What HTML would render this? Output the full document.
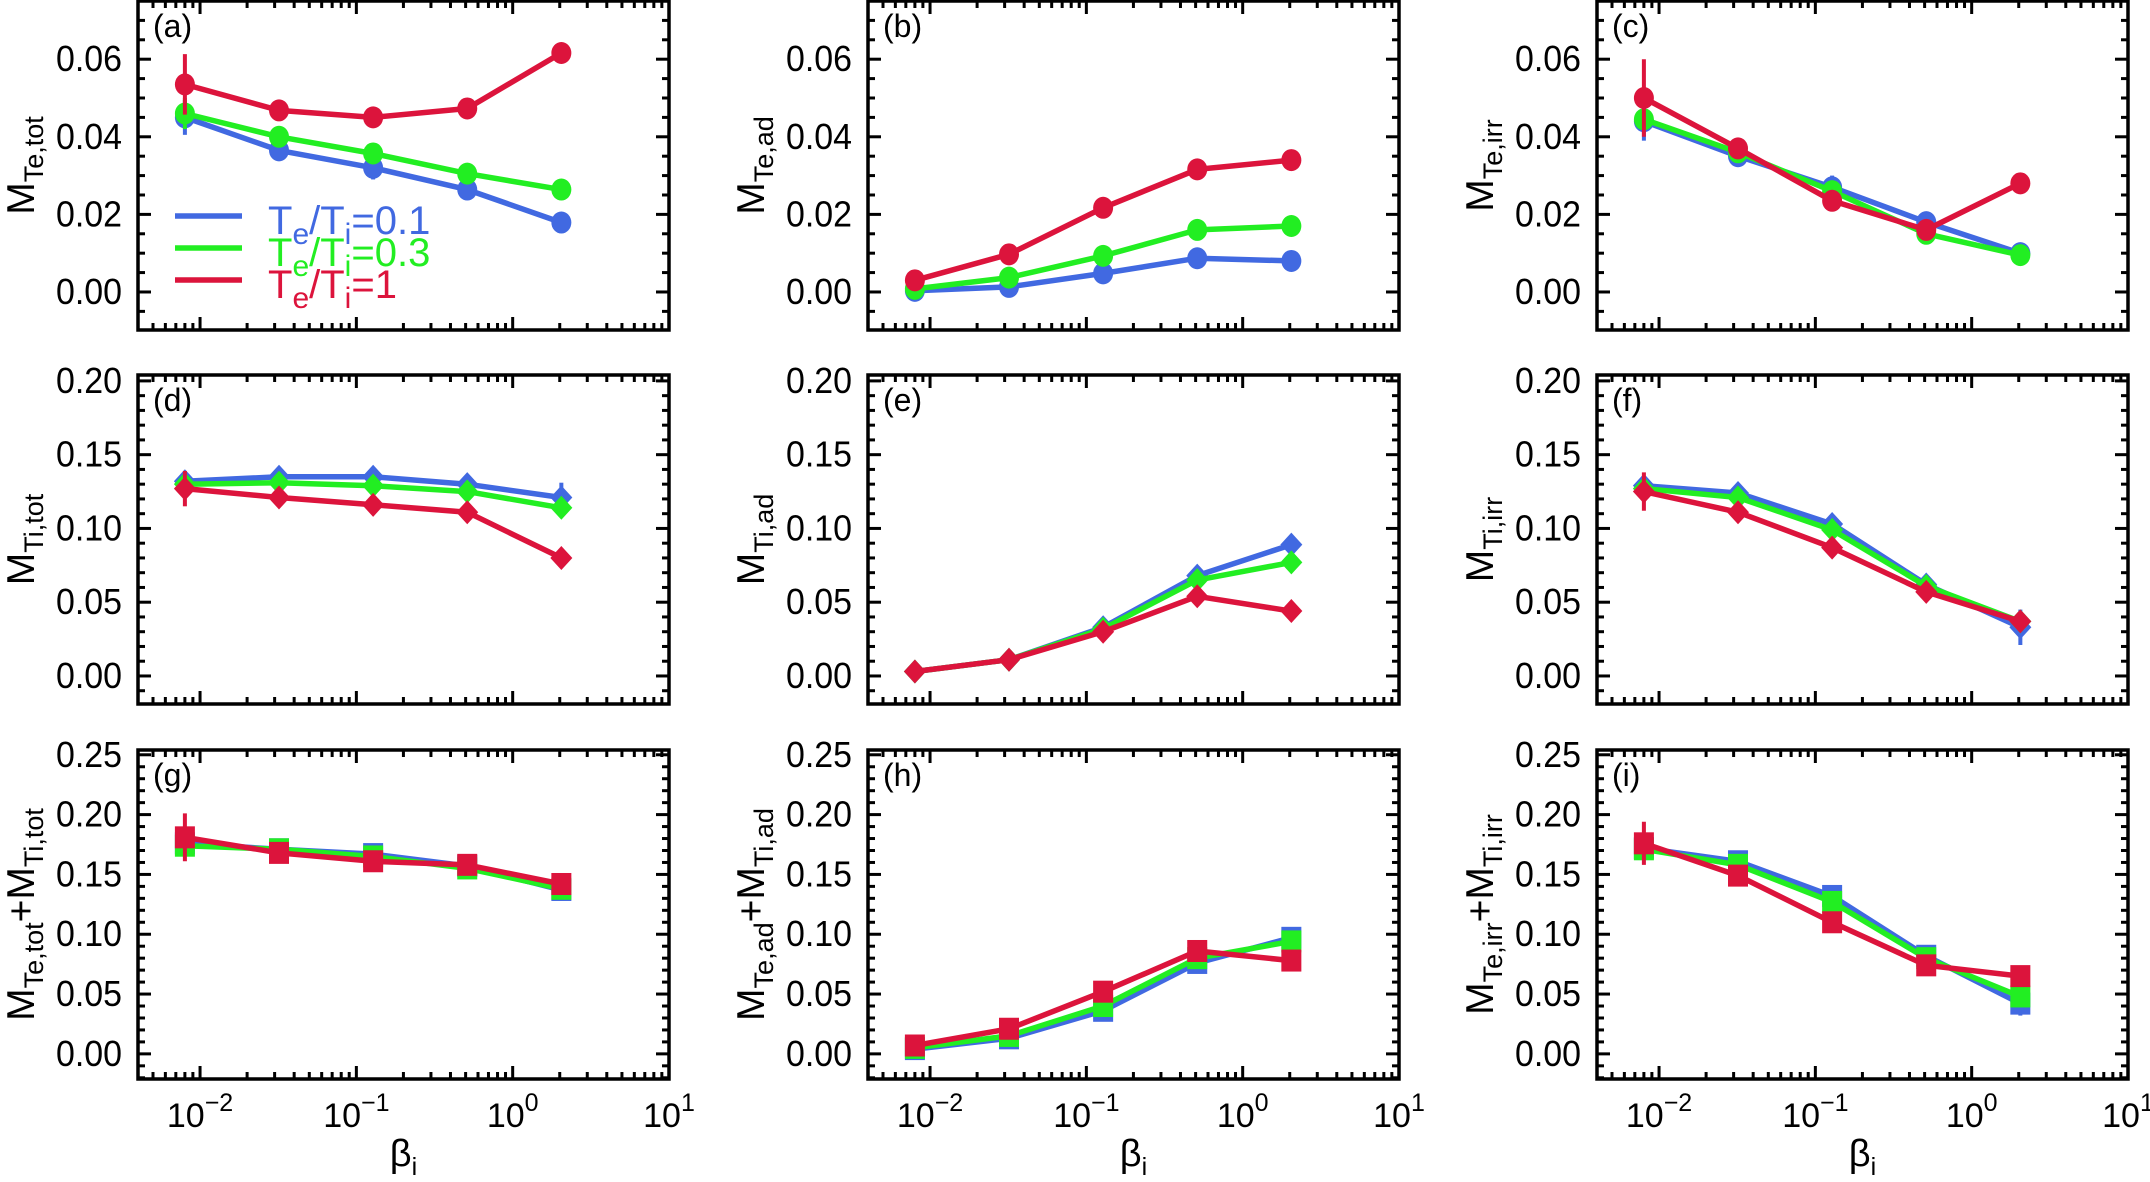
<!DOCTYPE html>
<html><head><meta charset="utf-8"><style>
html,body{margin:0;padding:0;background:#fff}
svg{display:block}
text{font-family:"Liberation Sans",sans-serif;fill:#000}
</style></head><body>
<svg id="fig" width="2150" height="1182" viewBox="0 0 2150 1182" xmlns="http://www.w3.org/2000/svg"></svg>
<script>
const betaValues = [0.008, 0.032, 0.128, 0.512, 2.048];
const seriesNames = ["Te/Ti=0.1", "Te/Ti=0.3", "Te/Ti=1"];
const row1Ticks = ["0.00", "0.02", "0.04", "0.06"];
const row2Ticks = ["0.00", "0.05", "0.10", "0.15", "0.20"];
const row3Ticks = ["0.00", "0.05", "0.10", "0.15", "0.20", "0.25"];
const xTickExps = ["-2", "-1", "0", "1"];

const aBlue = [0.045, 0.0365, 0.032, 0.0264, 0.0179];
const aGreen = [0.046, 0.040, 0.0357, 0.0305, 0.0264];
const aRed = [0.0535, 0.0468, 0.045, 0.0473, 0.0616];
const aErr = [[0.0045,0,0.003,0,0],[0.004,0,0,0,0],[0.0078,0,0,0,0]];
const bBlue = [0.0003, 0.0013, 0.0048, 0.0087, 0.008];
const bGreen = [0.0008, 0.0037, 0.0093, 0.016, 0.017];
const bRed = [0.003, 0.0097, 0.0217, 0.0316, 0.034];
const cBlue = [0.044, 0.035, 0.027, 0.018, 0.010];
const cGreen = [0.0445, 0.036, 0.026, 0.015, 0.0095];
const cRed = [0.050, 0.037, 0.0235, 0.016, 0.028];
const cErr = [[0.005,0,0.003,0,0],[0,0,0,0,0],[0.01,0,0,0,0]];
const dBlue = [0.132, 0.135, 0.135, 0.130, 0.121];
const dGreen = [0.130, 0.131, 0.129, 0.125, 0.114];
const dRed = [0.127, 0.121, 0.116, 0.111, 0.080];
const dErr = [[0,0,0,0,0.01],[0,0,0,0,0],[0.012,0,0,0,0]];
const eBlue = [0.003, 0.011, 0.033, 0.068, 0.089];
const eGreen = [0.003, 0.011, 0.032, 0.065, 0.077];
const eRed = [0.003, 0.011, 0.030, 0.054, 0.044];
const fBlue = [0.129, 0.124, 0.103, 0.062, 0.033];
const fGreen = [0.127, 0.121, 0.099, 0.061, 0.037];
const fRed = [0.125, 0.111, 0.087, 0.057, 0.037];
const fErr = [[0,0,0,0,0.012],[0,0,0,0,0],[0.013,0,0,0,0]];
const gBlue = [0.176, 0.171, 0.167, 0.157, 0.137];
const gGreen = [0.174, 0.171, 0.165, 0.155, 0.138];
const gRed = [0.181, 0.168, 0.161, 0.158, 0.142];
const gErr = [[0,0,0,0,0.006],[0.008,0,0,0,0],[0.02,0,0,0,0]];
const hBlue = [0.004, 0.013, 0.036, 0.076, 0.097];
const hGreen = [0.005, 0.015, 0.040, 0.080, 0.094];
const hRed = [0.007, 0.021, 0.052, 0.086, 0.078];
const iBlue = [0.172, 0.161, 0.132, 0.082, 0.042];
const iGreen = [0.171, 0.158, 0.127, 0.080, 0.048];
const iRed = [0.176, 0.149, 0.110, 0.074, 0.065];
const iErr = [[0,0,0,0,0.01],[0,0,0,0,0],[0.018,0,0,0,0]];

const NS = "http://www.w3.org/2000/svg";
const svg = document.getElementById("fig");
const colors = ["#4169E1", "#22EE22", "#DC143C"];
const colX = [138, 868, 1597], colW = 531;
const rowY = [1, 375, 750], rowH = 329;
const rowRange = [[-0.0098, 0.075], [-0.019, 0.204], [-0.021, 0.254]];
const rowTicks = [row1Ticks, row2Ticks, row3Ticks];
const rowMinor = [0.005, 0.01, 0.01];
const markers = ["circle", "diamond", "square"];
const LX0 = Math.log10(0.008) - 0.3, LX1 = 1;

function mk(tag, attrs, parent) {
  const e = document.createElementNS(NS, tag);
  for (const k in attrs) e.setAttribute(k, attrs[k]);
  (parent || svg).appendChild(e);
  return e;
}

const panels = [
  {id:"a", r:0, c:0, data:[aBlue,aGreen,aRed], err:aErr, sub:"Te,tot"},
  {id:"b", r:0, c:1, data:[bBlue,bGreen,bRed], err:null, sub:"Te,ad"},
  {id:"c", r:0, c:2, data:[cBlue,cGreen,cRed], err:cErr, sub:"Te,irr"},
  {id:"d", r:1, c:0, data:[dBlue,dGreen,dRed], err:dErr, sub:"Ti,tot"},
  {id:"e", r:1, c:1, data:[eBlue,eGreen,eRed], err:null, sub:"Ti,ad"},
  {id:"f", r:1, c:2, data:[fBlue,fGreen,fRed], err:fErr, sub:"Ti,irr"},
  {id:"g", r:2, c:0, data:[gBlue,gGreen,gRed], err:gErr, sub:["Te,tot","Ti,tot"]},
  {id:"h", r:2, c:1, data:[hBlue,hGreen,hRed], err:null, sub:["Te,ad","Ti,ad"]},
  {id:"i", r:2, c:2, data:[iBlue,iGreen,iRed], err:iErr, sub:["Te,irr","Ti,irr"]}
];

panels.forEach(p => {
  const X0 = colX[p.c], Y0 = rowY[p.r], W = colW, H = rowH;
  const [v0, v1] = rowRange[p.r];
  const xs = v => X0 + (Math.log10(v) - LX0) / (LX1 - LX0) * W;
  const ys = v => Y0 + H - (v - v0) / (v1 - v0) * H;
  const g = mk("g", {});
  
  

  const tk = mk("g", {stroke:"#000", "stroke-width":3}, g);
  
  
  for (let e = -3; e <= 1; e++) for (let m = 1; m <= 9; m++) {
    const v = m * Math.pow(10, e);
    const lx = Math.log10(v);
    if (lx < LX0 - 1e-9 || lx > LX1 + 1e-9) continue;
    const x = xs(v), len = m === 1 ? 13 : 7;
    mk("line", {x1:x, y1:Y0+H, x2:x, y2:Y0+H-len}, tk);
    mk("line", {x1:x, y1:Y0, x2:x, y2:Y0+len}, tk);
  }
  const step = rowMinor[p.r];
  for (let k = Math.ceil(v0/step); k*step <= v1 + 1e-9; k++) {
    const v = k*step, y = ys(v);
    const major = (p.r > 0 && Math.abs(v/0.05 - Math.round(v/0.05)) < 1e-6) || (p.r === 0 && Math.abs(v/0.02 - Math.round(v/0.02)) < 1e-6);
    const len = major ? 13 : 7;
    mk("line", {x1:X0, y1:y, x2:X0+len, y2:y}, tk);
    mk("line", {x1:X0+W, y1:y, x2:X0+W-len, y2:y}, tk);
  }
  const fr = mk("rect", {x:X0, y:Y0, width:W, height:H, fill:"none", stroke:"#000", "stroke-width":3.5}, g);
  
  

  rowTicks[p.r].forEach(t => {
    const tl = mk("text", {x:X0-16, y:ys(parseFloat(t))+12, "font-size":36, "text-anchor":"end", textLength:66, lengthAdjust:"spacingAndGlyphs"}, g);
    
    
    tl.textContent = t;
  });
  if (p.r === 2) {
    xTickExps.forEach(ex => {
      const x = xs(Math.pow(10, parseFloat(ex)));
      const tl = mk("text", {x:x, y:Y0+H+48, "font-size":34, "text-anchor":"middle"}, g);
      
      
      tl.appendChild(document.createTextNode("10"));
      const sp = mk("tspan", {dy:-16, "font-size":25}, tl);
      sp.textContent = ex.replace("-", "\u2212");
    });
    const xt = mk("text", {x:X0+W/2, y:1166, "font-size":38, "text-anchor":"middle"}, g);
    
    
    xt.appendChild(document.createTextNode("\u03B2"));
    const s2 = mk("tspan", {dy:9, "font-size":25}, xt);
    s2.textContent = "i";
  }
  const tx = X0 - 104, ty = Y0 + H/2;
  const yt = mk("text", {transform:`translate(${tx},${ty}) rotate(-90)`, x:0, y:0, "text-anchor":"middle", "font-size":39}, g);
  
  
  const subs = Array.isArray(p.sub) ? p.sub : [p.sub];
  subs.forEach((s, i) => {
    if (i > 0) { const pl = mk("tspan", {dy:-9}, yt); pl.textContent = "+"; }
    const m = mk("tspan", {}, yt); m.textContent = "M";
    const sb = mk("tspan", {dy:9, "font-size":27}, yt); sb.textContent = s;
  });
  const pl = mk("text", {x:X0+15, y:Y0+36, "font-size":32}, g);
  
  
  pl.textContent = "(" + p.id + ")";

  p.data.forEach((arr, si) => {
    const sg = mk("g", {}, g);
    
    
    const pts = arr.map((v, k) => xs(betaValues[k]).toFixed(1) + "," + ys(v).toFixed(1)).join(" ");
    const ln = mk("polyline", {points:pts, fill:"none", stroke:colors[si], "stroke-width":5.5, "stroke-linejoin":"round"}, sg);
    
    
    arr.forEach((v, k) => {
      const x = xs(betaValues[k]), y = ys(v);
      if (p.err && p.err[si][k] > 0) {
        const e = p.err[si][k];
        const eb = mk("line", {x1:x, y1:ys(v-e), x2:x, y2:ys(v+e), stroke:colors[si], "stroke-width":4}, sg);
        
        
      }
      let mkEl;
      const mt = markers[p.r];
      if (mt === "circle") mkEl = mk("ellipse", {cx:x, cy:y, rx:10, ry:11, fill:colors[si]}, sg);
      else if (mt === "diamond") mkEl = mk("polygon", {points:`${x},${y-12} ${x+11},${y} ${x},${y+12} ${x-11},${y}`, fill:colors[si]}, sg);
      else mkEl = mk("rect", {x:x-10, y:y-11, width:20, height:22, fill:colors[si]}, sg);
      
      
    });
  });

  if (p.id === "a") {
    const lg = mk("g", {}, g);
    
    
    const vals = ["0.1", "0.3", "1"];
    [216, 248, 280].forEach((ly, i) => {
      const en = mk("g", {}, lg);
      
      
      mk("line", {x1:175, y1:ly, x2:242, y2:ly, stroke:colors[i], "stroke-width":5.5}, en);
      const t = mk("text", {x:268, y:ly+18, "font-size":40, style:"fill:"+colors[i]}, en);
      t.appendChild(document.createTextNode("T"));
      const s1 = mk("tspan", {dy:10, "font-size":30}, t); s1.textContent = "e";
      const s2 = mk("tspan", {dy:-10}, t); s2.textContent = "/T";
      const s3 = mk("tspan", {dy:10, "font-size":30}, t); s3.textContent = "i";
      const s4 = mk("tspan", {dy:-10}, t); s4.textContent = "=" + vals[i];
    });
  }
});
</script>
</body></html>
